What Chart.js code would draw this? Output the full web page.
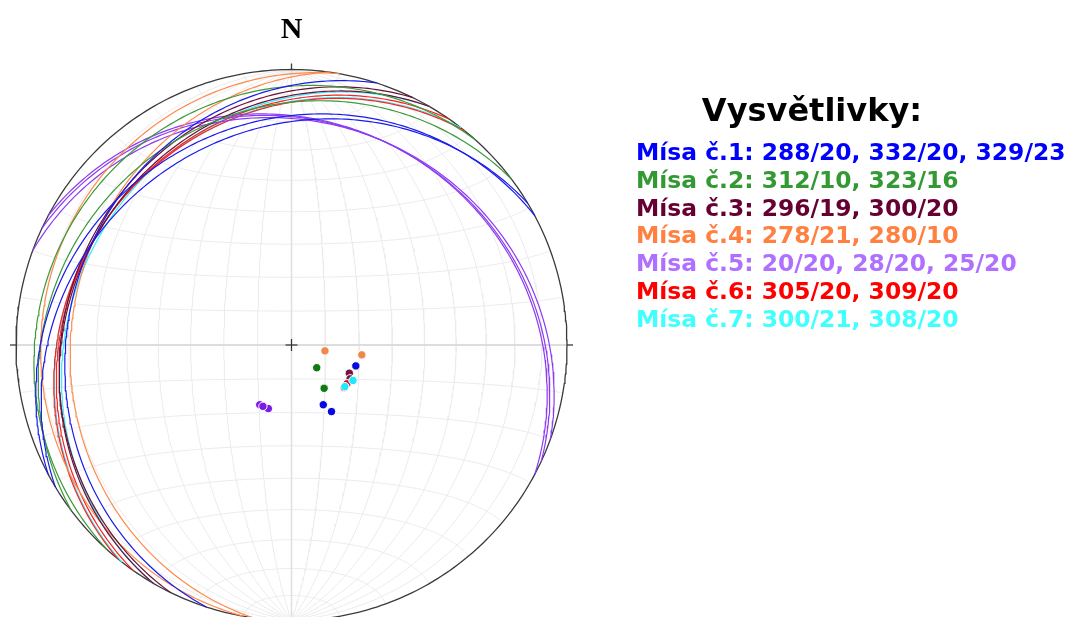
<!DOCTYPE html>
<html>
<head>
<meta charset="utf-8">
<script src="https://cdn.jsdelivr.net/npm/chart.js@4.4.1/dist/chart.umd.min.js"></script>
<style>
  html, body { margin: 0; padding: 0; background: #fff; overflow: hidden; }
  canvas { display: block; }
</style>
</head>
<body>
<canvas id="net" width="1070" height="617"></canvas>
<script>
// Measured planes per site: dip direction / dip, in degrees
const sites = ['Mísa č.1', 'Mísa č.2', 'Mísa č.3', 'Mísa č.4', 'Mísa č.5', 'Mísa č.6', 'Mísa č.7'];
const dipDirections = [[288, 332, 329], [312, 323], [296, 300], [278, 280], [20, 28, 25], [305, 309], [300, 308]];
const dips = [[20, 20, 23], [10, 16], [19, 20], [21, 10], [20, 20, 20], [20, 20], [21, 20]];
const legendTitle = 'Vysvětlivky:';
const northLabel = 'N';
const gridStep = 10; // degrees between net lines

const circleColors = ['#1a1aee', '#3c9a3c', '#6a0f35', '#ff8a4c', '#8c3cf0', '#ff2020', '#30f0ff'];
const poleColors = ['#0808e0', '#137a13', '#75123f', '#f0884a', '#7a1de0', '#e01010', '#20e8ff'];
const textColors = ['#0000ff', '#339933', '#660033', '#ff8040', '#b070ff', '#ff0000', '#40ffff'];

// layout of the net on the canvas (pixels)
const W = 1070, H = 617, CX = 291.5, CY = 345, RADIUS = 275.5;
const PX = 1 / RADIUS; // one pixel in net units

const D2R = Math.PI / 180;

// Lower-hemisphere equal-area (Schmidt) projection of a unit vector (east, north, down)
function project(e, n, d) {
  const k = 1 / Math.sqrt(1 + Math.max(0, d));
  return { x: e * k, y: n * k };
}

// Great circle of a plane given by dip direction and dip
function greatCircle(dd, dip) {
  const st = (dd - 90) * D2R, a = dd * D2R, b = dip * D2R;
  const s = [Math.sin(st), Math.cos(st), 0];
  const v = [Math.sin(a) * Math.cos(b), Math.cos(a) * Math.cos(b), Math.sin(b)];
  const pts = [];
  for (let i = 0; i <= 180; i += 1) {
    const t = i * D2R, c = Math.cos(t), sn = Math.sin(t);
    pts.push(project(c * s[0] + sn * v[0], c * s[1] + sn * v[1], c * s[2] + sn * v[2]));
  }
  return pts;
}

// Pole (normal) of a plane, pointing into the lower hemisphere
function pole(dd, dip) {
  const a = dd * D2R, b = dip * D2R;
  return project(-Math.sin(a) * Math.sin(b), -Math.cos(a) * Math.sin(b), Math.cos(b));
}

// Small circle: cone of half-angle alpha about the N-S axis
function smallCircleNS(alpha) {
  const a = alpha * D2R, pts = [];
  for (let i = 0; i <= 180; i += 1) {
    const t = i * D2R;
    pts.push(project(Math.sin(a) * Math.cos(t), Math.cos(a), Math.sin(a) * Math.sin(t)));
  }
  return pts;
}

function lineSet(data, color, width, order) {
  return {
    data, showLine: true, borderColor: color, borderWidth: width,
    pointRadius: 0, pointHoverRadius: 0, fill: false, tension: 0, order
  };
}

const datasets = [];

// poles of the planes (later sites end up on top)
sites.map((site, i) => i).reverse().forEach(i => {
  datasets.push({
    label: sites[i],
    data: dipDirections[i].map((dd, j) => pole(dd, dips[i][j])),
    showLine: false,
    pointRadius: 4.2,
    pointBackgroundColor: poleColors[i],
    pointBorderColor: '#ffffff',
    pointBorderWidth: 1,
    order: 0
  });
});

// great circles of the planes
sites.forEach((site, i) => {
  dipDirections[i].forEach((dd, j) => {
    datasets.push(lineSet(greatCircle(dd, dips[i][j]), circleColors[i], 1.2, 1));
  });
});

// primitive circle
const primitive = [];
for (let i = 0; i <= 360; i++) primitive.push({ x: Math.cos(i * D2R), y: Math.sin(i * D2R) });
datasets.push(lineSet(primitive, '#3a3a3a', 1.3, 2));

// north, east and west ticks, centre cross
const TICK = 6 * PX, CROSS = 6 * PX;
datasets.push(lineSet([{ x: 0, y: 1 }, { x: 0, y: 1 + TICK }], '#3a3a3a', 1.3, 2));
datasets.push(lineSet([{ x: 1, y: 0 }, { x: 1 + TICK, y: 0 }], '#3a3a3a', 1.3, 2));
datasets.push(lineSet([{ x: -1, y: 0 }, { x: -1 - TICK, y: 0 }], '#3a3a3a', 1.3, 2));
datasets.push(lineSet([{ x: -CROSS, y: 0 }, { x: CROSS, y: 0 }], '#333333', 1.2, 2));
datasets.push(lineSet([{ x: 0, y: -CROSS }, { x: 0, y: CROSS }], '#333333', 1.2, 2));

// Schmidt net: meridians (N-S striking planes) and small circles about the N-S axis
for (let d = gridStep; d < 90; d += gridStep) {
  datasets.push(lineSet(greatCircle(90, d), '#ebebeb', 1, 4));
  datasets.push(lineSet(greatCircle(270, d), '#ebebeb', 1, 4));
}
for (let a = gridStep; a < 180; a += gridStep) {
  if (a === 90) continue;
  datasets.push(lineSet(smallCircleNS(a), '#ebebeb', 1, 4));
}
datasets.push(lineSet(smallCircleNS(90), '#dddddd', 2, 3));
datasets.push(lineSet(greatCircle(90, 90), '#e0e0e0', 1.6, 3));

const textPlugin = {
  id: 'netText',
  afterDraw(chart) {
    const ctx = chart.ctx;
    const xs = chart.scales.x;
    ctx.save();
    ctx.textBaseline = 'alphabetic';
    ctx.fillStyle = '#000000';
    ctx.textAlign = 'center';
    ctx.font = 'bold 30px "Liberation Serif"';
    ctx.fillText(northLabel, xs.getPixelForValue(0), 38);
    ctx.font = 'bold 32px "DejaVu Sans"';
    ctx.fillText(legendTitle, 812, 121);
    ctx.textAlign = 'left';
    ctx.font = 'bold 23.4px "DejaVu Sans"';
    sites.forEach((site, i) => {
      const values = dipDirections[i].map((dd, j) => dd + '/' + dips[i][j]).join(', ');
      ctx.fillStyle = textColors[i];
      ctx.fillText(site + ': ' + values, 636, 160 + 27.8 * i);
    });
    ctx.restore();
  }
};

new Chart(document.getElementById('net'), {
  type: 'scatter',
  data: { datasets },
  options: {
    responsive: false,
    animation: false,
    devicePixelRatio: 1,
    layout: { padding: 0, autoPadding: false },
    plugins: { legend: { display: false }, tooltip: { enabled: false } },
    events: [],
    scales: {
      x: { type: 'linear', display: false, min: -CX / RADIUS, max: (W - CX) / RADIUS },
      y: { type: 'linear', display: false, min: -(H - CY) / RADIUS, max: CY / RADIUS }
    }
  },
  plugins: [textPlugin]
});
</script>
</body>
</html>
